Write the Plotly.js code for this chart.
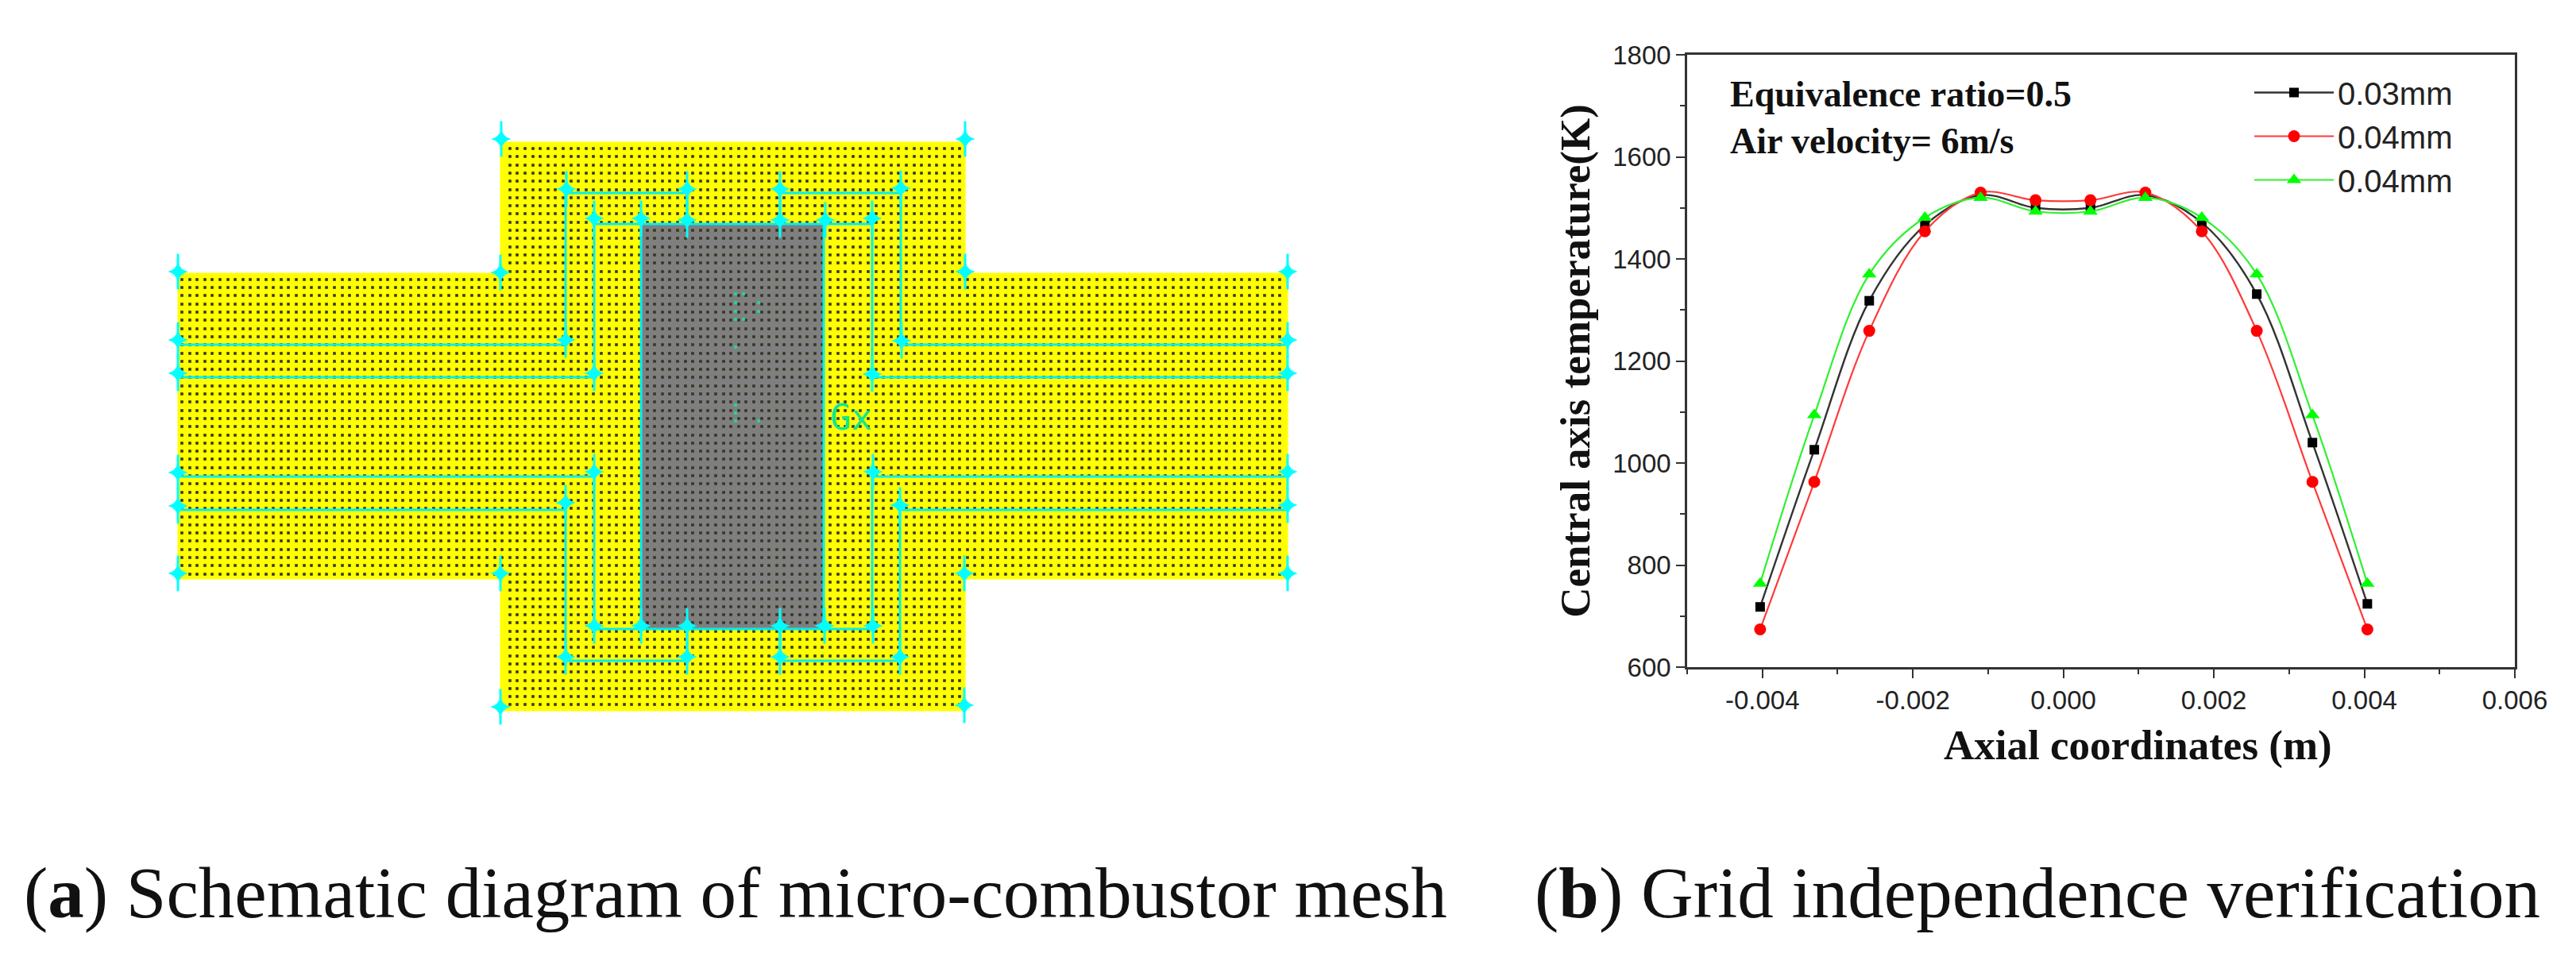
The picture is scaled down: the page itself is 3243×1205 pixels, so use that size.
<!DOCTYPE html>
<html>
<head>
<meta charset="utf-8">
<script src="https://cdn.plot.ly/plotly-3.0.1.min.js"></script>
<style>html,body{margin:0;padding:0;background:#fff}#c{width:3243px;height:1205px}</style>
</head>
<body>
<div id="c"></div>
<script>
// ---- panel (b): grid independence values
const axial = [-0.00403,-0.00331,-0.00258,-0.00184,-0.0011,-0.00037,0.00036,0.00109,0.00184,0.00257,0.00331,0.00404];
const temp003 = [718,1026,1318,1466,1525,1500,1500,1525,1471,1331,1040,724];
const temp004a = [674,963,1259,1454,1530,1515,1515,1530,1454,1259,963,674];
const temp004b = [764,1094,1370,1481,1520,1493,1493,1520,1481,1370,1094,764];
const seriesNames = ['0.03mm','0.04mm','0.04mm'];
const xTickVals = [-0.004,-0.002,0,0.002,0.004,0.006];
const xTickText = ['-0.004','-0.002','0.000','0.002','0.004','0.006'];
const xMinorVals = [-0.005,-0.003,-0.001,0.001,0.003,0.005];
const yTickVals = [600,800,1000,1200,1400,1600,1800];
const yMinorVals = [700,900,1100,1300,1500,1700];

// ---- panel (a): mesh geometry in picture units
const outlineX = [224,630,630,1215,1215,1621,1621,1215,1215,630,630,224,224];
const outlineY = [344,344,179,179,344,344,729,729,895,895,729,729,344];
const solidX = [807,1037,1037,807,807];
const solidY = [282,282,792,792,282];
const edgeX = [224,712,712,865,865,null,982,982,1134,1134,1621,null,
               224,748,748,1098,1098,1621,null,
               224,748,748,1098,1098,1621,null,
               224,712,712,865,865,null,982,982,1133,1133,1621,null,
               807,807,null,1037,1037];
const edgeY = [434,434,243,243,282,null,282,243,243,434,434,null,
               475,475,282,282,475,475,null,
               600,600,792,792,600,600,null,
               642,642,832,832,792,null,792,832,832,642,642,null,
               282,792,null,282,792];
const starX = [224,630,631,224,224,224,224,224,712,748,748,712,713,748,807,865,865,982,982,1039,1098,1134,1135,1098,1215,1215,
               1099,1133,1214,1621,1621,1621,1621,1621,1621,1038,1099,982,982,1133,1214,630,630,712,865,865,807,748];
const starY = [342,343,175,428,470,595,637,722,428,470,594,633,238,275,275,238,277,238,277,277,275,237,429,471,175,342,
               594,636,722,594,636,722,342,428,470,788,788,788,827,827,888,722,890,827,827,788,788,788];
const meshCols = [229,239,248,258,267,277,287,296,306,315,325,335,344,354,363,373,383,392,402,411,
  421,431,440,450,459,469,479,488,498,507,517,527,536,546,555,565,575,584,594,603,
  613,623,632,642,651,661,671,680,690,699,709,719,728,738,747,757,767,776,786,795,
  805,815,824,834,843,853,863,872,882,891,901,911,920,930,939,949,959,968,978,987,
  997,1007,1016,1026,1035,1045,1055,1064,1074,1083,1093,1103,1112,1122,1131,1141,1151,1160,1170,1179,
  1189,1199,1208,1218,1227,1237,1247,1256,1266,1275,1285,1295,1304,1314,1323,1333,1343,1352,1362,1371,
  1381,1391,1400,1410,1419,1429,1439,1448,1458,1467,1477,1487,1496,1506,1515,1525,1535,1544,1554,1563,
  1573,1583,1592,1602,1611];
const meshRows = [187,197,208,218,228,239,249,259,269,280,290,300,311,321,331,342,352,362,372,383,
  393,403,414,424,434,445,455,465,475,486,496,506,517,527,537,548,558,568,578,589,
  599,609,620,630,640,651,661,671,681,692,702,712,723,733,743,754,764,774,784,795,
  805,815,826,836,846,857,867,877,887];
const labelDotX = [926,936,926,955,926,955,926,936,926,926,926,926,955];
const labelDotY = [370,370,381,381,392,392,402,402,437,510,520,530,530];

const insideMesh = (x,y) => (x>=228 && x<=1617 && y>=349 && y<=725) || (x>=634 && x<=1211 && y>=183 && y<=892);
const dotX = [], dotY = [];
meshRows.forEach(y => meshCols.forEach(x => { if (insideMesh(x,y)) { dotX.push(x); dotY.push(y); } }));

const W = 3243, H = 1205;
const px = x => x / W, py = y => 1 - y / H;
const mesh = {xaxis:'x2', yaxis:'y2', showlegend:false, hoverinfo:'skip'};

const traces = [
  Object.assign({x:outlineX, y:outlineY, mode:'lines', fill:'toself', fillcolor:'#ffff00', line:{color:'#ffff00', width:1}}, mesh),
  Object.assign({x:solidX, y:solidY, mode:'lines', fill:'toself', fillcolor:'#7f7f7f', line:{color:'#7f7f7f', width:1}}, mesh),
  Object.assign({x:dotX, y:dotY, mode:'markers', marker:{symbol:'square', size:3.6, color:'#363624'}}, mesh),
  Object.assign({x:labelDotX, y:labelDotY, mode:'markers', marker:{symbol:'square', size:3.8, color:'#20d8a0'}}, mesh),
  Object.assign({x:edgeX, y:edgeY, mode:'lines', connectgaps:false, line:{color:'#00f0f0', width:3}}, mesh),
  Object.assign({x:starX, y:starY, mode:'markers', marker:{symbol:'star-diamond', size:18, color:'#00ffff', line:{width:0}}}, mesh),
  Object.assign({x:starX, y:starY, mode:'markers', marker:{symbol:'line-ns', size:32, color:'#00ffff', line:{width:3, color:'#00ffff'}}}, mesh),
  {x:axial, y:temp003, name:seriesNames[0], mode:'lines+markers', line:{color:'#333333', width:2.4, shape:'spline', smoothing:1}, marker:{symbol:'square', size:12, color:'#000000'}},
  {x:axial, y:temp004a, name:seriesNames[1], mode:'lines+markers', line:{color:'#ff3a3a', width:2.2, shape:'spline', smoothing:1}, marker:{symbol:'circle', size:15, color:'#ff0000'}},
  {x:axial, y:temp004b, name:seriesNames[2], mode:'lines+markers', line:{color:'#30f030', width:2.2, shape:'spline', smoothing:1}, marker:{symbol:'triangle-up', size:16, color:'#00ff00'}}
];

const serif = '"Liberation Serif", serif';
const sans = '"Liberation Sans", Arial, sans-serif';
const note = (text, x, y, size, extra) => Object.assign({text:text, xref:'paper', yref:'paper', x:px(x), y:py(y),
  xanchor:'left', yanchor:'middle', showarrow:false, font:{family:serif, size:size, color:'#111111'}}, extra||{});
const pad = '\u200b\u00a0\u00a0\u00a0\u00a0\u00a0\u00a0\u00a0';

const layout = {
  width:W, height:H, margin:{l:0,r:0,t:0,b:0}, paper_bgcolor:'#ffffff', plot_bgcolor:'rgba(0,0,0,0)',
  font:{family:sans, color:'#222222'},
  xaxis:{domain:[px(2124),px(3166)], range:[-0.005,0.006], anchor:'y', tickmode:'array', tickvals:xTickVals, ticktext:xTickText,
    ticks:'outside', ticklen:11, tickwidth:2, tickcolor:'#333333', showline:true, mirror:true, linecolor:'#333333', linewidth:2.5,
    zeroline:false, showgrid:false, tickfont:{family:sans, size:33, color:'#222222'},
    minor:{tickmode:'array', tickvals:xMinorVals, ticks:'outside', ticklen:6, tickwidth:2, tickcolor:'#333333', showgrid:false},
    title:{text:pad+'Axial coordinates (m)', standoff:20, font:{family:serif, size:53, color:'#111111', weight:700}}},
  yaxis:{domain:[py(840),py(69)], range:[600,1800], anchor:'x', tickmode:'array', tickvals:yTickVals,
    ticks:'outside', ticklen:11, tickwidth:2, tickcolor:'#333333', showline:true, mirror:true, linecolor:'#333333', linewidth:2.5,
    zeroline:false, showgrid:false, tickfont:{family:sans, size:33, color:'#222222'},
    minor:{tickmode:'array', tickvals:yMinorVals, ticks:'outside', ticklen:6, tickwidth:2, tickcolor:'#333333', showgrid:false},
    title:{text:'Central axis temperature(K)', standoff:12, font:{family:serif, size:53, color:'#111111', weight:700}}},
  xaxis2:{domain:[0,px(1700)], range:[0,1700], visible:false, anchor:'y2', fixedrange:true},
  yaxis2:{domain:[py(1000),1], range:[1000,0], visible:false, anchor:'x2', fixedrange:true},
  legend:{x:px(2833), y:py(84), xanchor:'left', yanchor:'top', bgcolor:'rgba(0,0,0,0)', itemwidth:100, tracegroupgap:0,
    font:{family:sans, size:40, color:'#222222'}},
  annotations:[
    note('<b>Equivalence ratio=0.5</b>', 2176, 119, 46),
    note('<b>Air velocity= 6m/s</b>', 2176, 177, 46),
    note('Gx', 1043, 525, 44, {font:{family:'"DejaVu Sans Mono", monospace', size:44, color:'#10e890'}}),
    note('(<b>a</b>) Schematic diagram of micro-combustor mesh', 28, 1124, 91),
    note('(<b>b</b>) Grid independence verification', 1930, 1124, 91)
  ]
};
Plotly.newPlot('c', traces, layout, {displayModeBar:false, responsive:false});
</script>
</body>
</html>
